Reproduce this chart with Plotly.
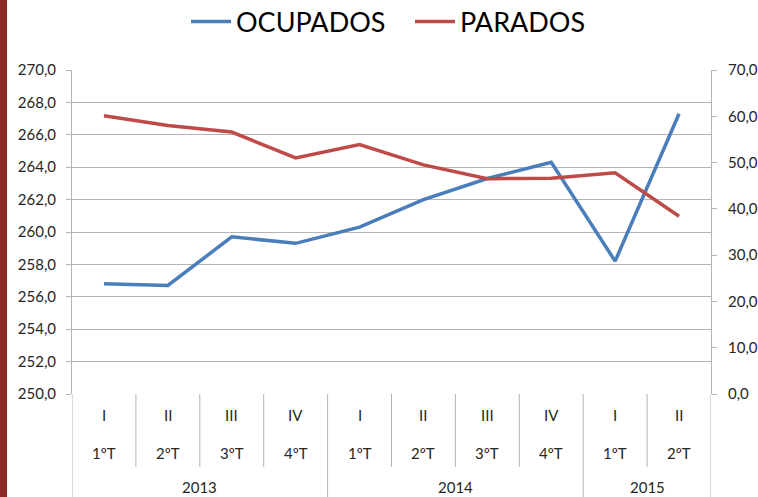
import plotly.graph_objects as go

# ---- data ----
roman = ["I", "II", "III", "IV", "I", "II", "III", "IV", "I", "II"]
trimestre = ["1ºT", "2ºT", "3ºT", "4ºT", "1ºT", "2ºT", "3ºT", "4ºT", "1ºT", "2ºT"]
years = ["2013", "2014", "2015"]
year_counts = [4, 4, 2]
ocupados = [256.8, 256.7, 259.7, 259.3, 260.3, 262.0, 263.3, 264.3, 258.2, 267.3]
parados = [60.1, 58.0, 56.6, 51.0, 53.9, 49.5, 46.5, 46.6, 47.8, 38.4]

x = list(range(len(roman)))
FONT = "Lato, 'Open Sans', sans-serif"
GRID = "#B4B4B4"
TXT = "#262626"

fig = go.Figure()
fig.add_trace(go.Scatter(x=x, y=ocupados, name="OCUPADOS", mode="lines",
                         line=dict(color="#4A7EBB", width=3.5), yaxis="y"))
fig.add_trace(go.Scatter(x=x, y=parados, name="PARADOS", mode="lines",
                         line=dict(color="#BE4B48", width=3.5), yaxis="y2"))

shapes = []
annotations = []
ph = 324.0  # plot height px
pw = 639.0  # plot width px
def py(px):
    return -px / ph

# level 1 & 2 labels
for i in x:
    annotations.append(dict(x=i, y=py(21), xref="x", yref="paper", text=roman[i],
                            showarrow=False, font=dict(size=15, color=TXT, family=FONT),
                            yanchor="middle"))
    annotations.append(dict(x=i, y=py(59), xref="x", yref="paper", text=trimestre[i],
                            showarrow=False, font=dict(size=15, color=TXT, family=FONT),
                            yanchor="middle"))

# year labels and dividers
boundaries = [-0.5]
start = 0
for yname, cnt in zip(years, year_counts):
    center = start + (cnt - 1) / 2
    annotations.append(dict(x=center, y=py(93), xref="x", yref="paper", text=yname,
                            showarrow=False, font=dict(size=15, color=TXT, family=FONT),
                            yanchor="middle"))
    start += cnt
    boundaries.append(start - 0.5)

for i in range(len(x) - 1):
    b = i + 0.5
    if b in boundaries:
        continue
    shapes.append(dict(type="line", xref="x", yref="paper", x0=b, x1=b, y0=0, y1=py(73),
                       line=dict(color=GRID, width=1)))
for b in boundaries:
    shapes.append(dict(type="line", xref="x", yref="paper", x0=b, x1=b, y0=0, y1=py(110),
                       line=dict(color=GRID, width=1)))

# left decorative strip
shapes.append(dict(type="rect", xref="paper", yref="paper",
                   x0=-72 / pw, x1=-65 / pw, y0=-110 / ph, y1=1 + 80 / ph,
                   fillcolor="#8E2B27", line=dict(width=0), layer="below"))

fig.update_layout(
    width=758, height=497,
    margin=dict(l=72, r=47, t=70, b=103, autoexpand=False),
    paper_bgcolor="white", plot_bgcolor="white",
    separators=",.",
    font=dict(family=FONT, color=TXT, size=15),
    showlegend=True,
    legend=dict(orientation="h", x=(186 - 72) / pw, xanchor="left", y=1 + 48 / ph,
                yanchor="middle", entrywidth=169, entrywidthmode="pixels",
                font=dict(size=27, color="#000000", family=FONT), itemwidth=40,
                tracegroupgap=0),
    xaxis=dict(range=[-0.5, 9.5], showticklabels=False, showgrid=False, zeroline=False,
               showline=False, ticks=""),
    yaxis=dict(range=[250, 270], dtick=2, tickformat=".1f", showgrid=True, gridcolor=GRID,
               gridwidth=1, zeroline=False, showline=True, linecolor=GRID, ticks="outside",
               ticklen=5, tickcolor=GRID, ticklabelstandoff=7,
               tickfont=dict(size=15, color=TXT)),
    yaxis2=dict(range=[0, 70], dtick=10, tickformat=".1f", overlaying="y", side="right",
                showgrid=False, zeroline=False, showline=True, linecolor=GRID, ticks="outside",
                ticklen=5, tickcolor=GRID, ticklabelstandoff=8,
                tickfont=dict(size=15, color=TXT)),
    shapes=shapes,
    annotations=annotations,
)

fig.write_html("out.html", config={"displayModeBar": False},
               post_script="document.body.style.margin='0';document.body.style.overflow='hidden';")
